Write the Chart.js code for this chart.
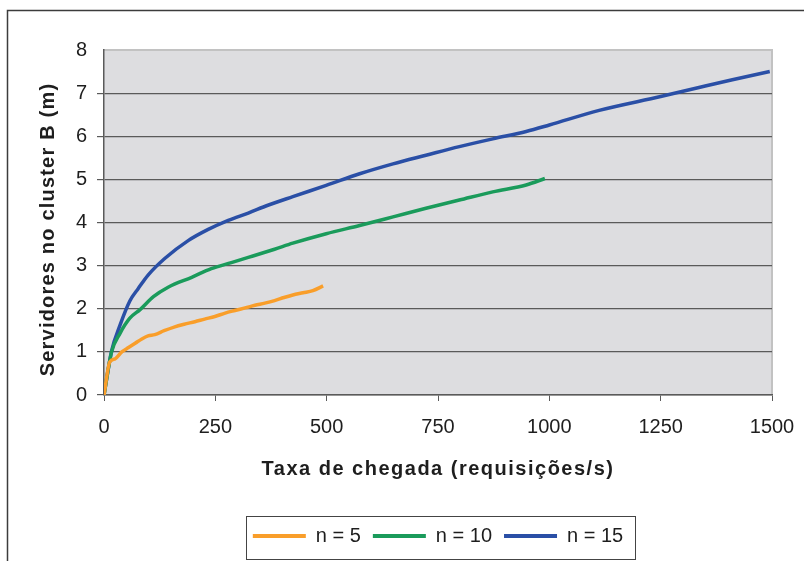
<!DOCTYPE html>
<html>
<head>
<meta charset="utf-8">
<script src="https://cdn.jsdelivr.net/npm/chart.js@4.4.1/dist/chart.umd.min.js"></script>
<style>
  html, body { margin: 0; padding: 0; background: #fff; }
</style>
</head>
<body>
<canvas id="chart" width="804" height="561"></canvas>
<script>
// taxa de chegada (req/s) e servidores no cluster B
const rate5 = [0, 13, 25, 40, 55, 70, 85, 99, 114, 135, 159, 180, 204, 226, 249, 272, 294, 317, 339, 361, 383, 404, 424, 447, 469, 492];
const servers5 = [0, 0.77, 0.84, 1.0, 1.1, 1.2, 1.3, 1.37, 1.4, 1.49, 1.58, 1.64, 1.7, 1.76, 1.82, 1.9, 1.96, 2.02, 2.08, 2.13, 2.19, 2.26, 2.32, 2.37, 2.42, 2.53];

const rate10 = [0, 17, 36, 58, 81, 111, 144, 197, 241, 286, 324, 383, 424, 499, 574, 649, 723, 798, 873, 948, 990];
const servers10 = [0, 1.0, 1.43, 1.78, 1.98, 2.28, 2.5, 2.73, 2.93, 3.07, 3.19, 3.38, 3.52, 3.74, 3.93, 4.13, 4.33, 4.52, 4.71, 4.87, 5.02];

const rate15 = [0, 17, 36, 58, 77, 99, 137, 189, 234, 279, 324, 368, 424, 499, 574, 649, 723, 798, 873, 948, 1000, 1112, 1250, 1336, 1411, 1495];
const servers15 = [0, 1.02, 1.62, 2.18, 2.47, 2.78, 3.17, 3.58, 3.84, 4.05, 4.22, 4.4, 4.6, 4.86, 5.13, 5.36, 5.56, 5.76, 5.94, 6.11, 6.26, 6.6, 6.92, 7.13, 7.31, 7.5];

const seriesLabels = ['n = 5', 'n = 10', 'n = 15'];
const seriesColors = ['#F99E2A', '#1A9B5B', '#2A4FA6'];

const xTitle = 'Taxa de chegada (requisições/s)';
const yTitle = 'Servidores no cluster B (m)';

const font = 'Liberation Sans, Arial, Helvetica, sans-serif';
Chart.defaults.font.family = font;
Chart.defaults.color = '#1e1e1e';

function points(xs, ys) {
  return xs.map((x, i) => ({ x: x, y: ys[i] }));
}

const series = [[rate5, servers5], [rate10, servers10], [rate15, servers15]];

const datasets = series.map((s, i) => ({
  label: seriesLabels[i],
  data: points(s[0], s[1]),
  borderColor: seriesColors[i],
  backgroundColor: seriesColors[i],
  borderWidth: 3.5,
  pointRadius: 0,
  cubicInterpolationMode: 'monotone',
  fill: false
}));

const framePlugin = {
  id: 'frame',
  afterLayout(chart) {
    // legenda centrada na área do gráfico, não no canvas
    const a = chart.chartArea, lg = chart.legend;
    const dx = (a.left + a.right) / 2 - (lg.left + lg.right) / 2;
    lg.left += dx;
    lg.right += dx;
  },
  beforeDraw(chart) {
    const { ctx, chartArea: a } = chart;
    ctx.save();
    ctx.fillStyle = '#fff';
    ctx.fillRect(0, 0, chart.width, chart.height);
    ctx.strokeStyle = '#3c3c3c';
    ctx.lineWidth = 1.5;
    ctx.strokeRect(7.5, 10.5, chart.width + 20, chart.height + 20);
    ctx.fillStyle = '#dddde0';
    ctx.fillRect(a.left, a.top, a.right - a.left, a.bottom - a.top);
    ctx.strokeStyle = '#c2c2c2';
    ctx.lineWidth = 2;
    ctx.beginPath();
    ctx.moveTo(a.left, a.top);
    ctx.lineTo(a.right, a.top);
    ctx.lineTo(a.right, a.bottom);
    ctx.stroke();
    ctx.restore();
  },
  afterDraw(chart) {
    const { ctx, chartArea: a } = chart;
    ctx.save();
    ctx.fillStyle = '#1e1e1e';
    ctx.font = 'bold 20px ' + font;
    ctx.textAlign = 'center';
    ctx.textBaseline = 'middle';
    ctx.letterSpacing = '1.5px';
    ctx.fillText(xTitle, (a.left + a.right) / 2, a.bottom + 74);
    ctx.letterSpacing = '1.2px';
    ctx.translate(48, (a.top + a.bottom) / 2 + 7);
    ctx.rotate(-Math.PI / 2);
    ctx.fillText(yTitle, 0, 0);
    ctx.restore();

    // caixa da legenda
    const lg = chart.legend;
    const pad = lg.options.labels.padding;
    const items = lg.lineWidths[0] - pad;
    const cx = (lg.left + lg.right) / 2;
    const l = Math.round(cx - items / 2 - 7);
    const r = Math.round(cx + items / 2 + 12);
    const t = Math.round(lg.top + 2);
    ctx.save();
    ctx.strokeStyle = '#444';
    ctx.lineWidth = 1;
    ctx.strokeRect(l + 0.5, t + 0.5, r - l, 43);
    ctx.restore();
  }
};

new Chart(document.getElementById('chart'), {
  type: 'line',
  data: { datasets: datasets },
  options: {
    responsive: false,
    animation: false,
    layout: { padding: { left: 10, right: 32, top: 50, bottom: 5 } },
    scales: {
      x: {
        type: 'linear',
        min: 0,
        max: 1500,
        afterFit(scale) {
          scale.height = 119;
          scale.paddingLeft = 0;
          scale.paddingRight = 0;
        },
        ticks: {
          stepSize: 250,
          padding: 14,
          maxRotation: 0,
          font: { size: 20 },
          callback: v => String(v)
        },
        grid: { drawOnChartArea: false, tickLength: 6, color: '#5a5a5a' },
        border: { color: '#5a5a5a', width: 1.5 }
      },
      y: {
        min: 0,
        max: 8,
        afterFit(scale) {
          scale.width = 94;
          scale.paddingTop = 0;
          scale.paddingBottom = 0;
        },
        ticks: { stepSize: 1, padding: 10, font: { size: 20 } },
        grid: {
          tickLength: 7,
          lineWidth: 1.2,
          color: c => (c.tick && c.tick.value === 8) ? 'rgba(0,0,0,0)' : '#5a5a5a'
        },
        border: { color: '#5a5a5a', width: 1.5 }
      }
    },
    plugins: {
      tooltip: { enabled: false },
      legend: {
        position: 'bottom',
        labels: {
          boxWidth: 53,
          boxHeight: 4,
          padding: 12,
          font: { size: 20 },
          color: '#1e1e1e',
          generateLabels(chart) {
            return Chart.defaults.plugins.legend.labels.generateLabels(chart)
              .map(l => Object.assign(l, { lineWidth: 0, fillStyle: l.strokeStyle }));
          }
        }
      }
    }
  },
  plugins: [framePlugin]
});
</script>
</body>
</html>
